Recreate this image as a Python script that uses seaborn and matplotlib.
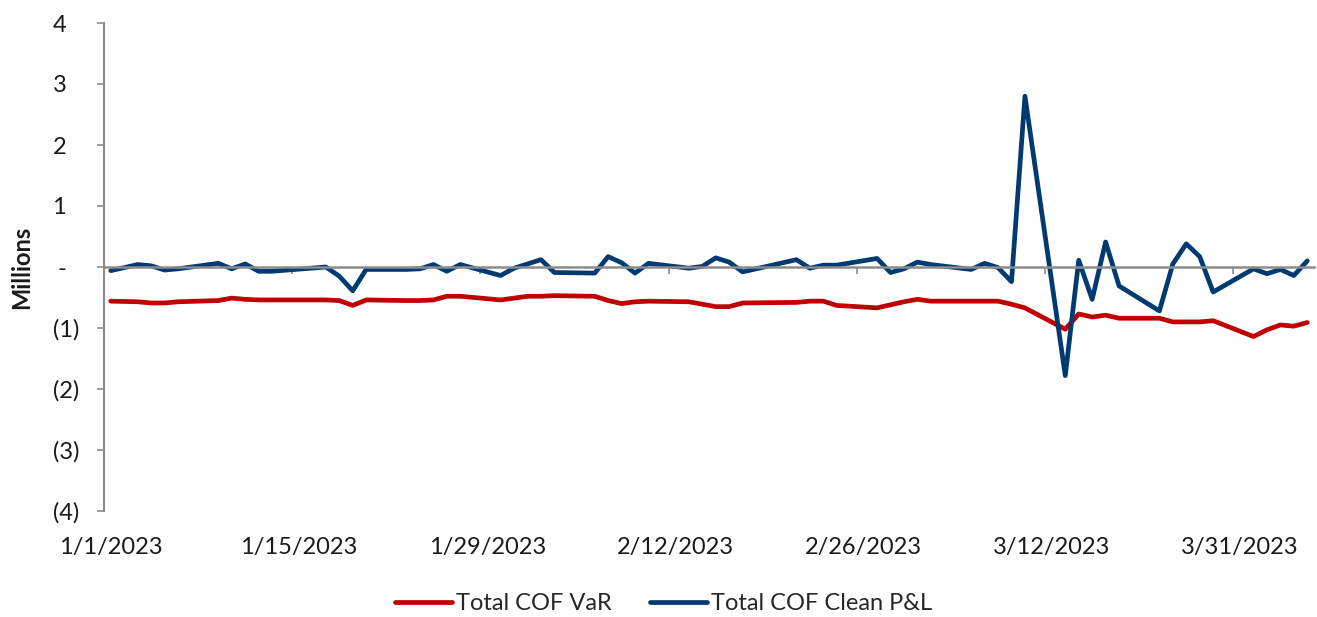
import numpy as np
import pandas as pd
import matplotlib
matplotlib.use("Agg")
import matplotlib.pyplot as plt
import seaborn as sns

N_CATEGORIES = 90
# values in millions, keyed by category index (missing categories are gaps)
pnl_points = {
    0: -0.06, 2: 0.04, 3: 0.02, 4: -0.05, 5: -0.03, 8: 0.06, 9: -0.03, 10: 0.05,
    11: -0.07, 12: -0.07, 16: 0.0, 17: -0.15, 18: -0.39, 19: -0.04, 22: -0.04,
    23: -0.03, 24: 0.04, 25: -0.07, 26: 0.04, 29: -0.14, 30: -0.02, 31: 0.05,
    32: 0.12, 33: -0.09, 36: -0.10, 37: 0.17, 38: 0.07, 39: -0.10, 40: 0.06,
    43: -0.02, 44: 0.01, 45: 0.15, 46: 0.08, 47: -0.08, 51: 0.12, 52: -0.02,
    53: 0.03, 54: 0.03, 57: 0.14, 58: -0.09, 59: -0.03, 60: 0.08, 61: 0.04,
    64: -0.04, 65: 0.06, 66: -0.01, 67: -0.24, 68: 2.80, 71: -1.78, 72: 0.11,
    73: -0.53, 74: 0.41, 75: -0.31, 78: -0.72, 79: 0.05, 80: 0.38, 81: 0.17,
    82: -0.41, 85: -0.03, 86: -0.11, 87: -0.04, 88: -0.14, 89: 0.10,
}
var_points = {
    0: -0.56, 2: -0.57, 3: -0.59, 4: -0.59, 5: -0.57, 8: -0.55, 9: -0.51, 10: -0.53,
    11: -0.54, 12: -0.54, 16: -0.54, 17: -0.55, 18: -0.63, 19: -0.54, 22: -0.55,
    23: -0.55, 24: -0.54, 25: -0.48, 26: -0.48, 29: -0.54, 30: -0.51, 31: -0.48,
    32: -0.48, 33: -0.47, 36: -0.48, 37: -0.55, 38: -0.60, 39: -0.57, 40: -0.56,
    43: -0.57, 44: -0.61, 45: -0.65, 46: -0.65, 47: -0.59, 51: -0.58, 52: -0.56,
    53: -0.56, 54: -0.63, 57: -0.67, 58: -0.62, 59: -0.57, 60: -0.53, 61: -0.56,
    64: -0.56, 65: -0.56, 66: -0.56, 67: -0.61, 68: -0.67, 71: -1.02, 72: -0.77,
    73: -0.82, 74: -0.79, 75: -0.84, 78: -0.84, 79: -0.90, 80: -0.90, 81: -0.90,
    82: -0.88, 85: -1.14, 86: -1.03, 87: -0.95, 88: -0.97, 89: -0.91,
}
tick_categories = [0, 14, 28, 42, 56, 70, 84]
tick_labels = ["1/1/2023", "1/15/2023", "1/29/2023", "2/12/2023",
               "2/26/2023", "3/12/2023", "3/31/2023"]
y_ticks = [-4, -3, -2, -1, 0, 1, 2, 3, 4]
y_tick_labels = ["(4)", "(3)", "(2)", "(1)", "-  ", "1  ", "2  ", "3  ", "4  "]
series_names = ["Total COF VaR", "Total COF Clean P&L"]

RED = "#C00000"
BLUE = "#003A70"
GRAY = "#8C8C8C"
FS = 17

sns.set_theme(style="white")
plt.rcParams["font.family"] = ["Lato", "DejaVu Sans"]

rows = []
for name, pts in zip(series_names, [var_points, pnl_points]):
    for k, v in pts.items():
        rows.append({"category": k, "value": v, "series": name})
df = pd.DataFrame(rows)

fig = plt.figure(figsize=(13.17, 6.17), dpi=100)
ax = fig.add_axes([104 / 1317, 1 - 511 / 617, (1314 - 104) / 1317, (511 - 23) / 617])

sns.lineplot(data=df, x="category", y="value", hue="series",
             hue_order=series_names, palette=[RED, BLUE], linewidth=3.4,
             ax=ax, legend=False, sort=True, estimator=None)

ax.set_xlim(-0.5, N_CATEGORIES - 0.5)
ax.set_ylim(-4, 4)

# y axis
ax.set_yticks(y_ticks)
ax.set_yticklabels(y_tick_labels, fontsize=FS, color="#1a1a1a")
ax.tick_params(axis="y", direction="out", length=5, width=1.2, color=GRAY, pad=13, left=True)
ax.set_ylabel("Millions", fontsize=FS, fontweight="bold", labelpad=14, color="#1a1a1a")

# x axis line at zero with boundary ticks
for s in ["top", "right"]:
    ax.spines[s].set_visible(False)
ax.spines["left"].set_color(GRAY)
ax.spines["left"].set_linewidth(1.5)
ax.spines["bottom"].set_position(("data", 0))
ax.spines["bottom"].set_color(GRAY)
ax.spines["bottom"].set_linewidth(1.8)
ax.set_xticks([c - 0.5 for c in tick_categories])
ax.set_xticklabels([""] * len(tick_categories))
ax.tick_params(axis="x", direction="out", length=5, width=1.2, color=GRAY, bottom=True)
ax.set_xlabel("")

sec = ax.secondary_xaxis("bottom")
sec.set_xticks(tick_categories)
sec.set_xticklabels(tick_labels, fontsize=FS, color="#1a1a1a")
sec.tick_params(length=0, pad=19)
sec.spines["bottom"].set_visible(False)

handles = [plt.Line2D([], [], color=RED, lw=3.4, solid_capstyle="round"),
           plt.Line2D([], [], color=BLUE, lw=3.4, solid_capstyle="round")]
fig.legend(handles, series_names, loc="center", bbox_to_anchor=(0.504, 1 - 604 / 617),
           ncol=2, frameon=False, fontsize=FS, handlelength=2.4, handletextpad=0.2,
           columnspacing=1.6, borderpad=0)

fig.savefig("out.png", dpi=100)
